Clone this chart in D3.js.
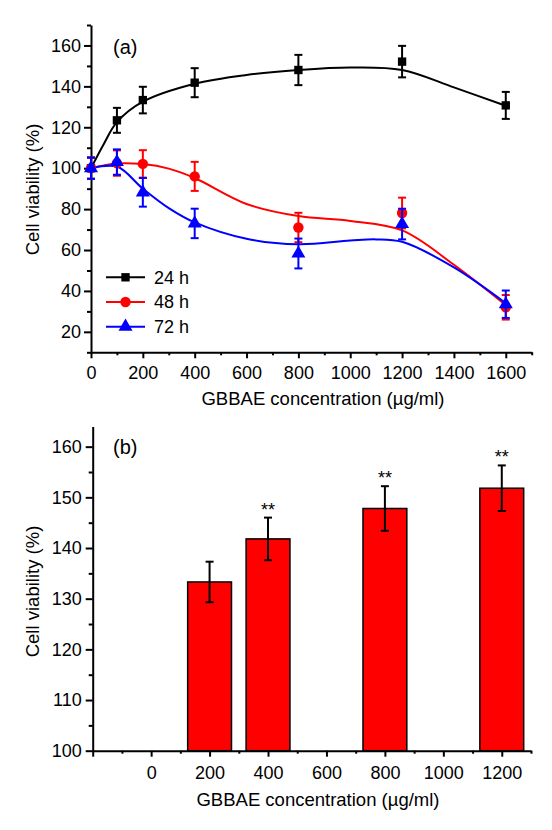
<!DOCTYPE html>
<html>
<head>
<meta charset="utf-8">
<script src="https://cdn.jsdelivr.net/npm/d3@7"></script>
<style>
  html, body { margin: 0; padding: 0; background: #fff; }
  svg { display: block; font-family: "Liberation Sans", Arial, sans-serif; }
</style>
</head>
<body>
<svg id="chart" width="552" height="830"></svg>
<script>
// ---------- Panel (a) data ----------
const concA = [0, 100, 200, 400, 800, 1200, 1600];
const v24 = [100, 123.4, 133.3, 141.8, 148.0, 152.1, 130.7];
const e24 = [5.2, 6.1, 6.5, 7.1, 7.4, 7.7, 6.6];
const v48 = [100, 102.5, 102.1, 96.0, 71.0, 78.1, 32.0];
const e48 = [5.2, 6.2, 6.7, 7.1, 7.2, 7.5, 6.0];
const v72 = [100, 103.0, 88.2, 73.0, 58.3, 72.7, 33.5];
const e72 = [5.2, 6.2, 7.0, 7.2, 7.3, 7.5, 6.7];

// fitted curves
const fit24X = [0, 50, 100, 200, 400, 600, 800, 1000, 1200, 1400, 1600];
const fit24Y = [100, 112, 122.5, 132.5, 141.3, 145.6, 148.0, 149.2, 148.0, 139.5, 130.5];
const fit48X = [0, 100, 200, 300, 400, 600, 800, 1000, 1200, 1400, 1600];
const fit48Y = [100, 102.3, 102.0, 99.8, 95.2, 82.5, 76.6, 74.2, 69.6, 52.8, 33.0];
const fit72X = [0, 100, 200, 300, 400, 600, 800, 1000, 1100, 1200, 1400, 1600];
const fit72Y = [100, 100.8, 90.0, 80.5, 73.5, 65.5, 62.8, 64.6, 65.2, 64.0, 51.5, 34.0];

const seriesNames = ["24 h", "48 h", "72 h"];
const seriesColors = ["#000000", "#ff0000", "#0000ff"];
const xTicksA = [0, 200, 400, 600, 800, 1000, 1200, 1400, 1600];
const yTicksA = [20, 40, 60, 80, 100, 120, 140, 160];

// ---------- Panel (b) data ----------
const concB = [200, 400, 800, 1200];
const valB = [133.3, 141.8, 147.8, 151.8];
const errB = [4.0, 4.2, 4.4, 4.5];
const starB = ["", "**", "**", "**"];
const xTicksB = [0, 200, 400, 600, 800, 1000, 1200];
const yTicksB = [100, 110, 120, 130, 140, 150, 160];

const xTitle = "GBBAE concentration (\u00b5g/ml)";
const yTitle = "Cell viability (%)";

const svg = d3.select("#chart");

function styleAxis(g, fs) {
  g.select(".domain").attr("stroke", "#000").attr("stroke-width", 2);
  g.selectAll(".tick line").attr("stroke", "#000").attr("stroke-width", 2);
  g.selectAll(".tick text").attr("fill", "#000").attr("font-size", fs)
    .attr("font-family", "Liberation Sans, Arial, sans-serif");
}

// ================= Panel (a) =================
const xA = d3.scaleLinear().domain([0, 1700]).range([91, 531.7]);
const yA = d3.scaleLinear().domain([10, 170]).range([352.3, 25]);

const gA = svg.append("g");

// minor ticks
gA.append("g").attr("transform", `translate(0,${yA(10)})`)
  .call(d3.axisBottom(xA).tickValues(d3.range(100, 1701, 200)).tickSize(3).tickFormat("").tickSizeOuter(0))
  .call(g => { styleAxis(g, 0); g.select(".domain").remove(); });
gA.append("g").attr("transform", `translate(${xA(0)},0)`)
  .call(d3.axisLeft(yA).tickValues(d3.range(10, 171, 20)).tickSize(4).tickFormat("").tickSizeOuter(0))
  .call(g => { styleAxis(g, 0); g.select(".domain").remove(); });

// major axes
gA.append("g").attr("transform", `translate(0,${yA(10)})`)
  .call(d3.axisBottom(xA).tickValues(xTicksA).tickSize(6).tickPadding(8).tickSizeOuter(0).tickFormat(d3.format("d")))
  .call(g => styleAxis(g, 18));
gA.append("g").attr("transform", `translate(${xA(0)},0)`)
  .call(d3.axisLeft(yA).tickValues(yTicksA).tickSize(7).tickPadding(3).tickSizeOuter(0).tickFormat(d3.format("d")))
  .call(g => styleAxis(g, 18));

// fitted curves
const fits = [[fit24X, fit24Y], [fit48X, fit48Y], [fit72X, fit72Y]];
const lineGen = d3.line().x(d => xA(d[0])).y(d => yA(d[1])).curve(d3.curveCatmullRom.alpha(0.5));

const symbols = [d3.symbolSquare, d3.symbolCircle, d3.symbolTriangle];
const symSizes = [70, 85, 85];
const vals = [v24, v48, v72];
const errs = [e24, e48, e72];

fits.forEach((f, i) => {
  const pts = f[0].map((x, j) => [x, f[1][j]]);
  gA.append("path").datum(pts).attr("d", lineGen)
    .attr("fill", "none").attr("stroke", seriesColors[i]).attr("stroke-width", 2);
});

vals.forEach((vs, i) => {
  const g = gA.append("g");
  const c = seriesColors[i];
  concA.forEach((x, j) => {
    const cx = xA(x), top = yA(vs[j] + errs[i][j]), bot = yA(vs[j] - errs[i][j]);
    g.append("line").attr("x1", cx).attr("x2", cx).attr("y1", top).attr("y2", bot)
      .attr("stroke", c).attr("stroke-width", 2);
    [top, bot].forEach(yy => g.append("line").attr("x1", cx - 4).attr("x2", cx + 4)
      .attr("y1", yy).attr("y2", yy).attr("stroke", c).attr("stroke-width", 2));
    g.append("path").attr("d", d3.symbol().type(symbols[i]).size(symSizes[i])())
      .attr("transform", `translate(${cx},${yA(vs[j])})`).attr("fill", c);
  });
});

// legend
seriesNames.forEach((name, i) => {
  const ly = 277.3 + i * 24.7;
  gA.append("line").attr("x1", 106).attr("x2", 145).attr("y1", ly).attr("y2", ly)
    .attr("stroke", seriesColors[i]).attr("stroke-width", 2);
  gA.append("path").attr("d", d3.symbol().type(symbols[i]).size(symSizes[i])())
    .attr("transform", `translate(125.5,${ly})`).attr("fill", seriesColors[i]);
  gA.append("text").attr("x", 154).attr("y", ly + 6.3).attr("font-size", 18).text(name);
});

gA.append("text").attr("x", 113).attr("y", 54).attr("font-size", 20).text("(a)");
gA.append("text").attr("x", 323).attr("y", 405).attr("text-anchor", "middle").attr("font-size", 18.5).text(xTitle);
gA.append("text").attr("transform", "translate(38.5,189.5) rotate(-90)").attr("text-anchor", "middle")
  .attr("font-size", 18.5).text(yTitle);

// ================= Panel (b) =================
const xB = d3.scaleLinear().domain([-200, 1300]).range([92.7, 531]);
const yB = d3.scaleLinear().domain([100, 164]).range([750.7, 426.4]);
const gB = svg.append("g");

const halfW = 75;
concB.forEach((x, j) => {
  gB.append("rect").attr("x", xB(x - halfW)).attr("y", yB(valB[j]))
    .attr("width", xB(x + halfW) - xB(x - halfW)).attr("height", yB(100) - yB(valB[j]))
    .attr("fill", "#ff0000").attr("stroke", "#000").attr("stroke-width", 1.5);
  const cx = xB(x), top = yB(valB[j] + errB[j]), bot = yB(valB[j] - errB[j]);
  gB.append("line").attr("x1", cx).attr("x2", cx).attr("y1", top).attr("y2", bot)
    .attr("stroke", "#000").attr("stroke-width", 2);
  [top, bot].forEach(yy => gB.append("line").attr("x1", cx - 4).attr("x2", cx + 4)
    .attr("y1", yy).attr("y2", yy).attr("stroke", "#000").attr("stroke-width", 2));
  if (starB[j]) {
    gB.append("text").attr("x", cx).attr("y", top - 2).attr("text-anchor", "middle")
      .attr("font-size", 18).text(starB[j]);
  }
});

// minor ticks
gB.append("g").attr("transform", `translate(0,${yB(100)})`)
  .call(d3.axisBottom(xB).tickValues(d3.range(-100, 1301, 200)).tickSize(3).tickFormat("").tickSizeOuter(0))
  .call(g => { styleAxis(g, 0); g.select(".domain").remove(); });
gB.append("g").attr("transform", `translate(${xB(-200)},0)`)
  .call(d3.axisLeft(yB).tickValues(d3.range(105, 164, 10)).tickSize(4).tickFormat("").tickSizeOuter(0))
  .call(g => { styleAxis(g, 0); g.select(".domain").remove(); });

gB.append("g").attr("transform", `translate(0,${yB(100)})`)
  .call(d3.axisBottom(xB).tickValues([-200].concat(xTicksB)).tickSize(6).tickPadding(10).tickSizeOuter(0)
    .tickFormat(d => d < 0 ? "" : d3.format("d")(d)))
  .call(g => styleAxis(g, 18));
gB.append("g").attr("transform", `translate(${xB(-200)},0)`)
  .call(d3.axisLeft(yB).tickValues(yTicksB).tickSize(7).tickPadding(4).tickSizeOuter(0).tickFormat(d3.format("d")))
  .call(g => styleAxis(g, 18));

gB.append("text").attr("x", 113).attr("y", 454).attr("font-size", 20).text("(b)");
gB.append("text").attr("x", 318).attr("y", 806).attr("text-anchor", "middle").attr("font-size", 18.5).text(xTitle);
gB.append("text").attr("transform", "translate(39,591.5) rotate(-90)").attr("text-anchor", "middle")
  .attr("font-size", 18.5).text(yTitle);
</script>
</body>
</html>
